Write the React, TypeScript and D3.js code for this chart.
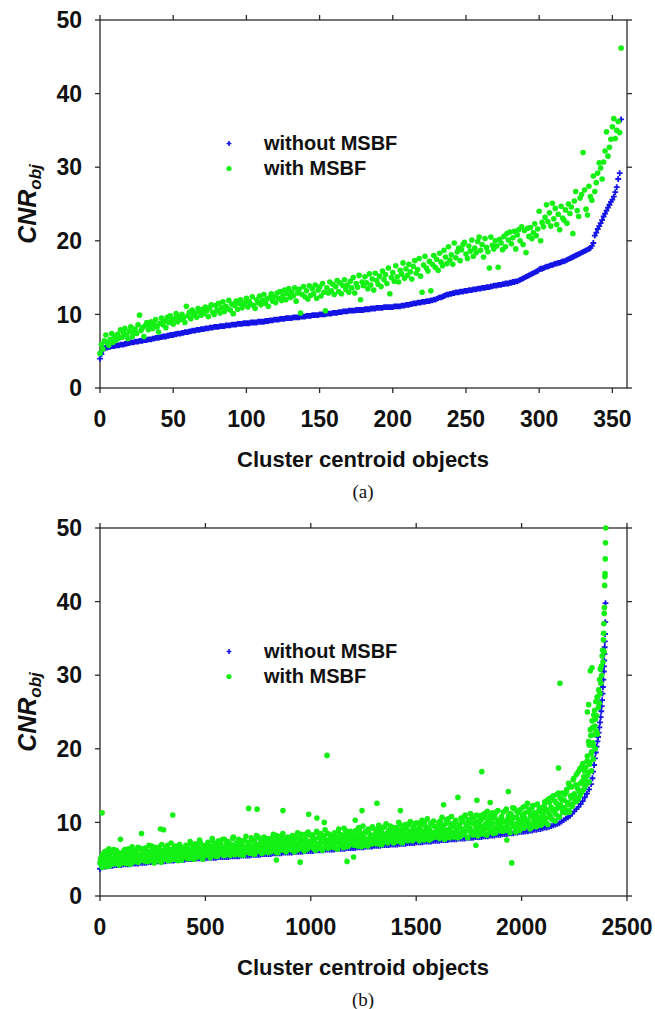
import * as d3 from "d3";

// tick labels
const yTicks = [0, 10, 20, 30, 40, 50];
const xTicksA = [0, 50, 100, 150, 200, 250, 300, 350];
const xTicksB = [0, 500, 1000, 1500, 2000, 2500];

// panel (a): one value per cluster centroid object, x = index
const blueA = [
  4.0, 4.6, 5.1, 5.4, 5.5, 5.5, 5.6, 5.6, 5.7, 5.7,
  5.7, 5.8, 5.8, 5.8, 5.9, 5.9, 5.9, 6.0, 6.0, 6.1,
  6.1, 6.2, 6.2, 6.2, 6.3, 6.3, 6.3, 6.4, 6.4, 6.4,
  6.5, 6.5, 6.5, 6.6, 6.6, 6.6, 6.7, 6.7, 6.8, 6.8,
  6.8, 6.9, 6.9, 7.0, 7.0, 7.0, 7.1, 7.1, 7.2, 7.2,
  7.2, 7.3, 7.3, 7.4, 7.4, 7.4, 7.5, 7.5, 7.6, 7.6,
  7.6, 7.7, 7.7, 7.8, 7.8, 7.8, 7.9, 7.9, 7.9, 8.0,
  8.0, 8.0, 8.1, 8.1, 8.1, 8.2, 8.2, 8.2, 8.3, 8.3,
  8.3, 8.3, 8.4, 8.4, 8.4, 8.4, 8.5, 8.5, 8.5, 8.5,
  8.6, 8.6, 8.6, 8.6, 8.7, 8.7, 8.7, 8.7, 8.8, 8.8,
  8.8, 8.8, 8.8, 8.9, 8.9, 8.9, 8.9, 8.9, 9.0, 9.0,
  9.0, 9.0, 9.0, 9.1, 9.1, 9.1, 9.2, 9.2, 9.2, 9.3,
  9.3, 9.3, 9.3, 9.4, 9.4, 9.4, 9.4, 9.5, 9.5, 9.5,
  9.5, 9.5, 9.6, 9.6, 9.6, 9.6, 9.6, 9.7, 9.7, 9.7,
  9.7, 9.8, 9.8, 9.8, 9.8, 9.9, 9.9, 9.9, 9.9, 9.9,
  10.0, 10.0, 10.0, 10.0, 10.0, 10.1, 10.1, 10.1, 10.1, 10.2,
  10.2, 10.2, 10.2, 10.3, 10.3, 10.3, 10.4, 10.4, 10.4, 10.4,
  10.5, 10.5, 10.5, 10.5, 10.5, 10.6, 10.6, 10.6, 10.6, 10.6,
  10.6, 10.7, 10.7, 10.7, 10.7, 10.8, 10.8, 10.8, 10.8, 10.9,
  10.9, 10.9, 10.9, 10.9, 11.0, 11.0, 11.0, 11.0, 11.0, 11.0,
  11.0, 11.1, 11.1, 11.1, 11.1, 11.1, 11.2, 11.2, 11.2, 11.3,
  11.3, 11.3, 11.4, 11.4, 11.5, 11.5, 11.5, 11.6, 11.6, 11.6,
  11.7, 11.7, 11.7, 11.8, 11.8, 11.8, 11.9, 11.9, 12.0, 12.0,
  12.1, 12.2, 12.3, 12.3, 12.4, 12.5, 12.6, 12.7, 12.7, 12.8,
  12.8, 12.9, 12.9, 13.0, 13.0, 13.0, 13.1, 13.1, 13.1, 13.2,
  13.2, 13.2, 13.3, 13.3, 13.3, 13.4, 13.4, 13.4, 13.5, 13.5,
  13.5, 13.6, 13.6, 13.6, 13.7, 13.7, 13.7, 13.8, 13.8, 13.9,
  13.9, 13.9, 14.0, 14.0, 14.0, 14.1, 14.1, 14.2, 14.2, 14.2,
  14.3, 14.3, 14.4, 14.4, 14.5, 14.5, 14.6, 14.7, 14.8, 14.9,
  15.0, 15.1, 15.2, 15.3, 15.4, 15.5, 15.6, 15.7, 15.8, 15.9,
  16.1, 16.2, 16.2, 16.3, 16.4, 16.5, 16.5, 16.6, 16.7, 16.7,
  16.8, 16.9, 16.9, 17.0, 17.0, 17.1, 17.2, 17.2, 17.3, 17.4,
  17.5, 17.6, 17.7, 17.8, 17.9, 18.0, 18.1, 18.2, 18.3, 18.4,
  18.5, 18.6, 18.7, 18.8, 18.9, 19.0, 19.3, 19.7, 20.7, 21.1,
  21.6, 22.0, 22.4, 22.8, 23.3, 23.7, 24.1, 24.5, 24.9, 25.3,
  25.6, 26.0, 26.6, 27.3, 28.4, 29.2, 36.5,
];

const greenA = [
  4.7, 5.9, 5.3, 6.4, 7.2, 6.1, 5.8, 6.6, 7.4, 6.2,
  7.0, 6.5, 7.3, 6.8, 7.9, 6.9, 7.5, 8.1, 7.2, 6.7,
  7.7, 8.3, 7.0, 7.6, 8.0, 7.4, 8.6, 9.9, 7.8, 8.2,
  7.0, 8.5, 8.9, 7.9, 8.4, 9.0, 8.1, 8.7, 9.3, 8.3,
  7.6, 8.8, 9.5, 8.6, 9.1, 8.2, 9.6, 8.9, 9.8, 9.2,
  8.7, 9.4, 10.1, 9.0, 9.7, 9.3, 10.0, 9.5, 8.9, 11.1,
  9.8, 10.3, 9.4, 10.6, 9.9, 10.2, 9.6, 10.8, 10.4, 9.9,
  10.7, 10.1, 11.0, 10.5, 9.7, 10.9, 11.3, 10.3, 10.0, 11.2,
  10.6, 11.5, 10.2, 10.9, 11.7, 10.4, 11.1, 10.8, 11.9, 10.6,
  11.4, 10.1, 11.2, 11.8, 10.7, 11.5, 12.0, 10.9, 11.3, 11.6,
  12.2, 11.0, 11.7, 11.4, 12.4, 11.2, 10.8, 12.0, 11.6, 12.5,
  11.3, 11.9, 12.7, 11.5, 12.1, 11.1, 12.3, 12.8, 11.8, 12.4,
  11.6, 12.9, 12.2, 13.1, 11.9, 12.6, 13.3, 12.0, 12.8, 13.5,
  12.3, 13.0, 12.5, 13.6, 11.8, 12.9, 13.4, 10.2, 12.7, 13.8,
  12.4, 13.2, 12.1, 13.9, 12.6, 13.5, 12.8, 14.0, 12.2, 13.3,
  13.7, 12.5, 14.2, 13.0, 10.5, 13.6, 12.9, 14.4, 13.2, 14.1,
  12.7, 13.8, 14.6, 13.1, 14.3, 12.8, 13.9, 14.7, 13.4, 14.0,
  13.0, 14.5, 13.6, 15.0, 12.9, 14.2, 13.7, 15.3, 12.0, 14.4,
  13.9, 15.1, 14.3, 13.5, 15.5, 14.0, 14.8, 13.3, 15.6, 14.6,
  14.1, 15.2, 13.8, 15.9, 14.7, 15.4, 14.2, 16.3, 12.8, 15.0,
  15.7, 14.5, 16.6, 15.1, 14.4, 16.0, 15.5, 17.0, 14.9, 16.2,
  15.3, 16.8, 15.8, 14.8, 16.5, 17.3, 15.6, 16.1, 17.6, 15.2,
  13.0, 16.7, 17.9, 16.3, 15.9, 17.2, 13.2, 16.8, 18.0, 16.4,
  17.5, 16.0, 18.3, 17.1, 16.6, 18.7, 17.8, 16.9, 19.2, 17.4,
  18.1, 16.8, 19.7, 17.7, 18.5, 19.0, 17.3, 18.8, 19.5, 19.8,
  18.2, 17.6, 19.3, 18.6, 20.1, 17.9, 19.0, 18.4, 19.9, 20.5,
  18.7, 19.5, 17.8, 20.3, 19.1, 18.5, 16.3, 20.5, 19.4, 18.9,
  20.0, 19.3, 16.4, 20.2, 19.7, 18.8, 20.6, 19.2, 21.0, 20.1,
  21.2, 19.6, 20.4, 21.3, 18.9, 20.8, 21.5, 20.0, 21.9, 19.5,
  21.4, 18.4, 21.7, 20.6, 21.8, 20.3, 21.1, 22.3, 20.7, 21.6,
  24.0, 20.0, 22.5, 21.9, 23.2, 24.9, 22.6, 23.8, 22.0, 25.1,
  23.0, 24.4, 22.2, 23.6, 21.5, 24.7, 23.1, 22.8, 24.2, 22.4,
  25.0, 23.7, 24.6, 21.0, 25.4, 26.7, 24.1, 23.3, 25.8, 26.3,
  32.0, 26.9, 24.3, 23.5, 27.4, 26.0, 25.5, 28.8, 26.7, 27.9,
  29.2, 30.6, 29.9, 28.4, 30.7, 32.2, 34.8, 31.5, 32.7, 33.8,
  35.5, 36.6, 33.9, 35.0, 36.2, 34.7, 46.2,
];

// panel (b): blue read every 10 objects, green every 5 objects (two interleaved reads)
const STEP_BLUE_B = 10;
const STEP_GREEN_B = 5;

const blueB = [
  3.7, 3.9, 4.0, 4.0, 4.1, 4.1, 4.1, 4.2, 4.2, 4.2,
  4.2, 4.3, 4.3, 4.3, 4.3, 4.4, 4.4, 4.4, 4.4, 4.5,
  4.5, 4.5, 4.5, 4.6, 4.6, 4.6, 4.6, 4.7, 4.7, 4.7,
  4.7, 4.7, 4.8, 4.8, 4.8, 4.8, 4.9, 4.9, 4.9, 4.9,
  4.9, 5.0, 5.0, 5.0, 5.0, 5.0, 5.1, 5.1, 5.1, 5.1,
  5.1, 5.2, 5.2, 5.2, 5.2, 5.2, 5.3, 5.3, 5.3, 5.3,
  5.3, 5.3, 5.4, 5.4, 5.4, 5.4, 5.4, 5.5, 5.5, 5.5,
  5.5, 5.5, 5.6, 5.6, 5.6, 5.6, 5.6, 5.7, 5.7, 5.7,
  5.7, 5.7, 5.8, 5.8, 5.8, 5.8, 5.8, 5.9, 5.9, 5.9,
  5.9, 5.9, 6.0, 6.0, 6.0, 6.0, 6.0, 6.1, 6.1, 6.1,
  6.1, 6.1, 6.2, 6.2, 6.2, 6.2, 6.2, 6.3, 6.3, 6.3,
  6.3, 6.3, 6.4, 6.4, 6.4, 6.4, 6.4, 6.5, 6.5, 6.5,
  6.5, 6.5, 6.6, 6.6, 6.6, 6.6, 6.7, 6.7, 6.7, 6.7,
  6.8, 6.8, 6.8, 6.8, 6.9, 6.9, 6.9, 6.9, 7.0, 7.0,
  7.0, 7.0, 7.1, 7.1, 7.1, 7.1, 7.2, 7.2, 7.2, 7.2,
  7.3, 7.3, 7.3, 7.3, 7.4, 7.4, 7.4, 7.4, 7.5, 7.5,
  7.5, 7.5, 7.6, 7.6, 7.6, 7.6, 7.7, 7.7, 7.7, 7.7,
  7.8, 7.8, 7.8, 7.8, 7.9, 7.9, 7.9, 7.9, 8.0, 8.0,
  8.0, 8.0, 8.1, 8.1, 8.1, 8.2, 8.2, 8.2, 8.3, 8.3,
  8.3, 8.4, 8.4, 8.4, 8.5, 8.5, 8.5, 8.6, 8.6, 8.7,
  8.7, 8.7, 8.8, 8.8, 8.9, 8.9, 9.0, 9.0, 9.1, 9.1,
  9.2, 9.3, 9.3, 9.4, 9.5, 9.6, 9.7, 9.8, 9.9, 10.1,
  10.3, 10.5, 10.7, 10.9, 11.2, 11.5, 11.8, 12.1, 12.5, 12.9,
  13.4, 13.9, 14.5, 15.2,
];
const blueBTailX = [
  2336, 2340, 2344, 2348, 2352, 2356, 2360, 2363, 2366, 2369,
  2372, 2375, 2378, 2380, 2382, 2384, 2386, 2388, 2390, 2391,
  2392, 2393, 2394, 2395, 2396, 2397, 2398,
];
const blueBTailY = [
  16.0, 16.9, 17.8, 18.7, 19.5, 20.3, 21.0, 21.6, 22.2, 22.9,
  23.6, 24.3, 25.1, 25.8, 26.6, 27.5, 28.4, 29.4, 30.5, 31.2,
  32.0, 32.9, 33.8, 34.6, 35.6, 37.2, 39.8,
];

// green at x = 0, 5, 10, ...
const greenB = [
  4.5, 5.2, 3.9, 4.8, 5.6, 4.3, 6.1, 4.9, 5.3, 4.1, 5.8, 4.6, 5.0, 6.3, 4.4, 5.5, 4.8, 5.9, 4.2, 5.1,
  5.4, 4.6, 6.0, 4.9, 5.7, 4.4, 5.2, 6.4, 4.8, 5.5, 4.5, 6.2, 5.0, 5.8, 4.7, 5.3, 6.6, 4.9, 5.6, 5.1,
  5.9, 4.8, 5.4, 6.5, 5.1, 5.7, 4.7, 6.1, 5.3, 6.8, 5.0, 5.6, 6.3, 4.9, 5.8, 5.2, 6.6, 5.5, 4.6, 6.0,
  5.4, 6.2, 5.0, 5.8, 6.9, 5.3, 6.0, 4.9, 5.7, 6.4, 5.2, 6.7, 5.5, 6.1, 4.8, 5.9, 6.5, 5.3, 6.2, 5.6,
  6.0, 5.4, 6.6, 5.1, 6.3, 5.8, 7.1, 5.5, 6.1, 5.0, 6.8, 5.7, 6.4, 5.3, 6.0, 7.3, 5.6, 6.2, 5.9, 6.7,
  5.5, 6.3, 7.0, 5.8, 6.5, 5.3, 6.1, 7.5, 5.9, 6.6, 5.4, 6.9, 6.2, 5.7, 7.2, 6.0, 6.4, 5.5, 7.7, 6.1,
  6.8, 5.7, 6.3, 7.1, 5.9, 6.6, 7.8, 6.0, 5.6, 6.9, 6.4, 7.3, 5.8, 6.5, 7.0, 6.2, 5.5, 7.5, 6.7, 6.1,
  6.4, 7.2, 5.8, 6.9, 6.1, 7.6, 6.5, 5.7, 7.0, 6.3, 8.0, 6.7, 6.0, 7.4, 6.6, 5.9, 7.1, 6.2, 7.8, 6.8,
  6.5, 7.3, 6.0, 7.7, 6.8, 6.2, 7.1, 8.2, 6.6, 5.9, 7.4, 6.9, 6.3, 7.9, 6.7, 7.2, 6.1, 7.5, 8.0, 6.4,
  7.0, 6.5, 7.6, 6.2, 7.3, 8.1, 6.8, 7.1, 6.3, 7.8, 6.9, 8.4, 6.6, 7.4, 6.1, 7.7, 7.0, 6.4, 8.3, 7.2,
  6.7, 7.5, 8.0, 6.4, 7.2, 6.9, 8.6, 7.0, 6.5, 7.8, 7.3, 6.2, 8.2, 7.6, 6.8, 7.1, 8.5, 6.6, 7.4, 7.9,
  7.0, 6.7, 8.1, 7.4, 6.5, 7.8, 8.7, 7.2, 6.9, 8.3, 7.5, 6.6, 7.9, 8.9, 7.1, 7.6, 6.8, 8.4, 7.3, 8.0,
  7.7, 6.9, 8.5, 7.3, 8.1, 7.0, 9.0, 7.6, 6.7, 8.3, 7.9, 7.2, 8.8, 7.4, 6.8, 8.6, 7.8, 8.2, 7.1, 9.2,
  7.5, 8.4, 7.1, 8.0, 9.1, 7.7, 7.0, 8.7, 8.2, 7.4, 9.4, 7.9, 8.5, 7.2, 8.9, 7.6, 8.1, 9.3, 7.8, 8.3,
  8.6, 7.4, 9.0, 8.1, 7.7, 9.6, 8.3, 7.2, 8.8, 7.9, 9.2, 8.4, 7.5, 9.8, 8.0, 8.7, 7.6, 9.4, 8.2, 8.9,
  7.8, 9.1, 8.5, 7.5, 9.7, 8.2, 8.8, 7.7, 10.0, 8.6, 8.0, 9.3, 7.6, 8.9, 9.9, 8.3, 7.9, 9.5, 8.7, 8.1,
  9.2, 8.4, 7.8, 10.2, 8.9, 8.1, 9.6, 7.7, 8.7, 10.4, 8.3, 9.0, 7.9, 9.8, 8.6, 9.4, 8.0, 10.1, 8.8, 9.3,
  8.5, 9.7, 8.1, 10.3, 9.0, 8.4, 10.8, 8.8, 9.5, 7.9, 10.0, 9.2, 8.6, 10.6, 8.3, 9.8, 8.9, 11.0, 9.3, 8.7,
  9.6, 8.4, 10.4, 9.1, 8.7, 11.2, 9.8, 8.3, 10.1, 9.4, 10.9, 8.8, 9.9, 8.5, 10.6, 9.2, 11.4, 9.0, 10.3, 8.9,
  9.7, 10.8, 8.8, 10.2, 9.3, 11.6, 9.0, 10.5, 9.9, 8.6, 11.1, 10.0, 9.5, 11.9, 9.2, 10.7, 9.6, 11.3, 8.9, 10.4,
  9.8, 11.0, 9.2, 10.6, 12.2, 9.6, 10.3, 11.5, 9.1, 10.9, 12.0, 9.9, 11.3, 10.1, 9.4, 12.5, 10.7, 11.8, 9.7, 10.4,
  11.2, 10.0, 12.8, 10.6, 11.7, 9.7, 13.2, 11.0, 12.1, 10.4, 13.6, 11.5, 10.2, 12.6, 11.9, 14.0, 10.8, 12.4, 13.1, 11.4,
  12.0, 13.8, 11.3, 14.5, 12.7, 11.6, 15.0, 13.3, 12.2, 15.8, 13.9, 12.8, 16.5, 14.6, 13.2, 17.2, 15.3, 14.1, 18.0, 16.2,
];
// green at x = 2.5, 7.5, 12.5, ...
const greenB2 = [
  5.0, 4.2, 5.7, 4.6, 6.0, 5.3, 4.0, 5.5, 6.4, 4.7, 5.1, 4.3, 5.9, 4.9, 5.4, 6.2, 4.5, 5.6, 5.0, 4.4,
  5.8, 5.1, 4.5, 6.3, 5.4, 4.8, 6.0, 5.2, 4.3, 5.9, 6.7, 5.0, 4.7, 5.6, 6.1, 5.3, 4.6, 6.5, 5.5, 4.9,
  5.2, 6.4, 5.6, 4.7, 6.0, 5.0, 6.9, 5.4, 4.9, 6.2, 5.8, 4.5, 6.6, 5.3, 5.9, 4.8, 6.3, 5.7, 7.0, 5.1,
  6.0, 5.1, 6.6, 5.7, 4.8, 6.3, 5.5, 7.2, 5.2, 6.1, 5.0, 6.8, 5.6, 6.4, 5.3, 7.0, 5.8, 4.9, 6.5, 5.9,
  5.3, 6.9, 5.9, 6.4, 5.1, 7.4, 6.0, 5.6, 6.7, 5.2, 7.1, 6.2, 5.5, 6.6, 7.6, 5.8, 6.3, 5.0, 6.9, 6.1,
  6.6, 5.6, 7.3, 6.0, 5.2, 6.8, 7.8, 6.3, 5.7, 7.1, 6.5, 5.4, 7.5, 6.1, 6.9, 5.9, 7.7, 6.4, 5.5, 7.0,
  6.0, 7.4, 6.5, 5.5, 7.0, 6.2, 8.0, 6.7, 5.8, 7.2, 6.4, 7.7, 5.6, 6.9, 6.1, 7.5, 6.6, 5.9, 8.1, 6.3,
  7.3, 6.0, 6.8, 7.9, 6.3, 5.7, 7.5, 6.6, 8.2, 6.1, 7.0, 6.4, 7.7, 5.8, 6.9, 8.0, 6.2, 7.4, 6.7, 5.9,
  6.9, 7.8, 6.1, 7.2, 8.4, 6.6, 7.5, 5.9, 6.8, 8.1, 7.0, 6.3, 7.7, 8.5, 6.5, 7.3, 6.0, 7.9, 6.7, 7.4,
  7.6, 6.3, 8.2, 7.1, 6.0, 7.9, 6.7, 8.6, 7.3, 6.5, 8.0, 6.9, 7.5, 6.2, 8.4, 7.0, 6.6, 8.7, 7.4, 6.8,
  7.3, 8.3, 6.6, 7.7, 6.2, 8.8, 7.1, 7.9, 6.8, 8.5, 7.4, 6.4, 8.1, 9.0, 7.0, 7.6, 6.5, 8.4, 7.2, 8.0,
  7.7, 6.6, 8.6, 7.2, 8.0, 6.4, 9.1, 7.5, 8.3, 6.9, 7.8, 9.2, 7.0, 8.5, 6.7, 8.1, 7.4, 8.8, 7.1, 7.9,
  8.2, 7.0, 8.9, 7.6, 6.8, 9.3, 7.9, 8.5, 7.2, 9.5, 8.0, 6.9, 8.7, 7.5, 9.1, 7.8, 8.3, 7.1, 9.4, 8.1,
  8.0, 9.0, 7.3, 8.6, 9.6, 7.6, 8.2, 7.0, 9.3, 8.4, 7.7, 9.8, 8.1, 7.4, 8.9, 9.5, 7.8, 8.5, 7.2, 9.1,
  9.3, 7.8, 8.5, 10.0, 8.1, 7.3, 9.0, 8.7, 7.6, 9.7, 8.3, 9.5, 7.9, 8.8, 10.1, 8.0, 7.5, 9.2, 8.6, 9.9,
  8.4, 9.9, 7.8, 9.2, 8.7, 10.3, 8.1, 7.6, 9.5, 8.9, 10.5, 8.3, 9.1, 7.7, 9.8, 8.6, 10.2, 8.0, 9.4, 8.8,
  8.7, 10.0, 8.2, 9.5, 10.7, 8.5, 9.1, 7.8, 9.9, 8.9, 10.5, 8.0, 9.3, 10.8, 8.6, 9.7, 8.3, 10.3, 9.0, 7.9,
  9.4, 8.3, 10.6, 9.1, 10.1, 8.6, 11.0, 9.6, 8.0, 10.4, 9.2, 11.2, 8.8, 9.9, 10.7, 8.5, 9.5, 10.2, 8.2, 10.9,
  10.2, 8.9, 11.0, 9.5, 8.4, 10.7, 9.2, 11.5, 10.0, 8.7, 10.5, 9.7, 11.3, 9.0, 10.8, 8.6, 9.9, 11.6, 9.4, 10.3,
  10.5, 9.3, 11.4, 10.1, 8.9, 11.8, 9.7, 10.9, 9.1, 11.2, 10.4, 12.0, 9.5, 10.7, 8.7, 11.5, 10.0, 9.4, 11.7, 10.2,
  10.6, 12.1, 9.5, 11.3, 10.2, 12.6, 9.8, 11.7, 10.9, 9.3, 12.3, 10.5, 11.1, 9.9, 12.4, 11.4, 10.0, 12.0, 9.6, 11.6,
  10.9, 12.3, 11.6, 9.9, 13.0, 11.3, 12.7, 10.6, 13.4, 11.8, 10.3, 12.9, 11.1, 13.8, 12.2, 10.7, 13.3, 12.0, 14.0, 11.7,
  13.0, 11.7, 14.2, 12.4, 15.3, 11.4, 13.6, 14.8, 12.5, 16.0, 13.4, 15.1, 12.9, 16.8, 14.3, 13.7, 17.5, 15.6, 14.4, 17.0,
];
const greenBTailX = [
  2300, 2302, 2304, 2306, 2308, 2310, 2312, 2314, 2316, 2318,
  2320, 2322, 2324, 2326, 2328, 2330, 2332, 2334, 2336, 2338,
  2340, 2342, 2344, 2346, 2348, 2350, 2352, 2354, 2356, 2358,
  2360, 2362, 2364, 2366, 2368, 2370, 2372, 2374, 2376, 2378,
  2380, 2382, 2384, 2386, 2388, 2389, 2390, 2391, 2392, 2393,
  2394, 2395, 2396, 2397, 2398, 2399, 2320, 2330, 2340, 2350,
  2326, 2334, 2312, 2318,
];
const greenBTailY = [
  14.8, 16.1, 17.5, 15.2, 15.6, 18.3, 19.0, 16.4, 16.8, 21.0,
  20.5, 17.9, 18.2, 22.6, 21.8, 19.3, 19.6, 23.8, 22.9, 20.8,
  20.4, 24.6, 21.9, 25.2, 23.1, 24.0, 26.4, 22.4, 24.5, 27.0,
  22.0, 27.1, 25.6, 28.0, 26.2, 29.4, 27.5, 30.8, 28.9, 31.2,
  30.0, 32.6, 33.4, 31.8, 34.8, 35.7, 37.0, 33.2, 38.4, 39.2,
  42.2, 43.4, 43.8, 45.8, 48.0, 50.0, 15.5, 17.0, 18.6, 20.0,
  30.6, 31.0, 25.0, 26.0,
];
const greenBOutX = [
  10, 97, 197, 287, 302, 345, 705, 745, 837, 868, 950, 990, 1029, 1064, 1077, 1172,
  1203, 1211, 1243, 1314, 1425, 1630, 1698, 1783, 1788, 1811, 1851, 1930, 1937, 1953, 2175, 2182,
];
const greenBOutY = [
  11.3, 7.7, 8.5, 9.1, 9.0, 11.0, 11.9, 11.8, 4.9, 11.6, 4.6, 11.1, 10.6, 10.0, 19.1, 4.7,
  5.3, 10.3, 11.6, 12.6, 11.6, 12.4, 13.4, 6.9, 13.0, 16.9, 12.7, 7.6, 14.2, 4.5, 17.4, 28.9,
];

const seriesNames = ["without MSBF", "with MSBF"];

const BLUE = "#1414e6";
const GREEN = "#14f014";
const AXIS = "#2a2a2a";
const SANS = "'Liberation Sans', Arial, sans-serif";
const SERIF = "'Liberation Serif', 'Times New Roman', serif";

type Pt = [number, number];

function Panel({ top, xMax, xTicks, blue, green, caption, dotR }: {
  top: number; xMax: number; xTicks: number[]; blue: Pt[]; green: Pt[]; caption: string; dotR: number;
}) {
  const x = d3.scaleLinear().domain([0, xMax]).range([100, 627]);
  const y = d3.scaleLinear().domain([0, 50]).range([top + 368, top]);
  const left = x(0), right = x(xMax), bottom = y(0), upper = y(50);
  const tk = 5;

  const plus = (cx: number, cy: number, r = 2.9) =>
    `M${cx - r},${cy}h${2 * r}M${cx},${cy - r}v${2 * r}`;
  const bluePath = blue.map(([a, b]) => plus(x(a), y(b))).join("");

  return (
    <g>
      {/* frame */}
      <rect x={left} y={upper} width={right - left} height={bottom - upper}
        fill="none" stroke={AXIS} strokeWidth={1.3} />
      {/* x ticks, bottom and top */}
      {xTicks.map((t) => (
        <g key={"x" + t}>
          <line x1={x(t)} x2={x(t)} y1={bottom} y2={bottom + tk} stroke={AXIS} strokeWidth={1.3} />
          <line x1={x(t)} x2={x(t)} y1={upper} y2={upper - tk} stroke={AXIS} strokeWidth={1.3} />
          <text x={x(t)} y={bottom + 39} textAnchor="middle" fontFamily={SANS}
            fontWeight="bold" fontSize={23} fill="#111">{t}</text>
        </g>
      ))}
      {/* y ticks, left and right */}
      {yTicks.map((t) => (
        <g key={"y" + t}>
          <line x1={left - tk} x2={left} y1={y(t)} y2={y(t)} stroke={AXIS} strokeWidth={1.3} />
          <line x1={right} x2={right + tk} y1={y(t)} y2={y(t)} stroke={AXIS} strokeWidth={1.3} />
          <text x={82} y={y(t)} dy="0.36em" textAnchor="end" fontFamily={SANS}
            fontWeight="bold" fontSize={23} fill="#111">{t}</text>
        </g>
      ))}

      {/* data */}
      <path d={bluePath} stroke={BLUE} strokeWidth={1.8} fill="none" />
      {green.map(([a, b], i) => (
        <circle key={i} cx={x(a)} cy={y(b)} r={dotR} fill={GREEN} />
      ))}

      {/* legend */}
      <path d={plus(229, top + 123.5, 2.4)} stroke={BLUE} strokeWidth={1.6} />
      <circle cx={229} cy={top + 148.5} r={2.6} fill={GREEN} />
      <text x={264} y={top + 130} fontFamily={SANS} fontWeight="bold" fontSize={20} fill="#111">
        {seriesNames[0]}
      </text>
      <text x={264} y={top + 155} fontFamily={SANS} fontWeight="bold" fontSize={20} fill="#111">
        {seriesNames[1]}
      </text>

      {/* axis titles */}
      <text transform={`translate(36,${(upper + bottom) / 2}) rotate(-90)`} textAnchor="middle"
        fontFamily={SANS} fontWeight="bold" fontStyle="italic" fontSize={25} fill="#111">
        CNR<tspan fontSize={17} dy={5}>obj</tspan>
      </text>
      <text x={363} y={bottom + 79} textAnchor="middle" fontFamily={SANS} fontWeight="bold"
        fontSize={22} fill="#111">Cluster centroid objects</text>
      <text x={363} y={bottom + 110} textAnchor="middle" fontFamily={SERIF} fontSize={19}
        fill="#111">{caption}</text>
    </g>
  );
}

export default function App() {
  const blueAPts: Pt[] = blueA.map((v, i) => [i, v]);
  const greenAPts: Pt[] = greenA.map((v, i) => [i, v]);

  const blueBPts: Pt[] = [
    ...blueB.map((v, i) => [i * STEP_BLUE_B, v] as Pt),
    ...blueBTailX.map((v, i) => [v, blueBTailY[i]] as Pt),
  ];
  const greenBPts: Pt[] = [
    ...greenB.map((v, i) => [i * STEP_GREEN_B, v] as Pt),
    ...greenB2.map((v, i) => [i * STEP_GREEN_B + STEP_GREEN_B / 2, v] as Pt),
    ...greenBTailX.map((v, i) => [v, greenBTailY[i]] as Pt),
    ...greenBOutX.map((v, i) => [v, greenBOutY[i]] as Pt),
  ];

  return (
    <div style={{ position: "absolute", left: 0, top: 0 }}>
      <svg width={655} height={1009} style={{ display: "block", background: "#fff" }}>
        <Panel top={20} xMax={360} xTicks={xTicksA} blue={blueAPts} green={greenAPts}
          caption="(a)" dotR={2.8} />
        <Panel top={528} xMax={2500} xTicks={xTicksB} blue={blueBPts} green={greenBPts}
          caption="(b)" dotR={2.8} />
      </svg>
    </div>
  );
}
